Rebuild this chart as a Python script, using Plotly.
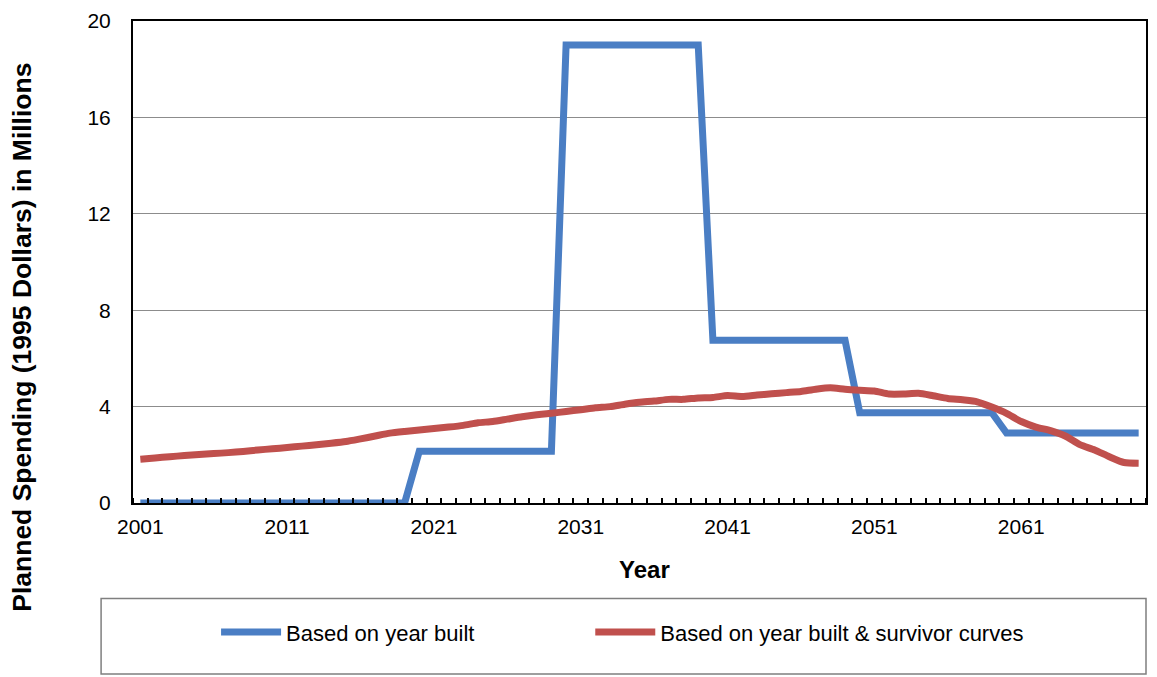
import plotly.graph_objects as go

years = list(range(2001, 2070))

based_on_year_built = (
    [0.0] * 19            # 2001-2019
    + [2.15] * 10         # 2020-2029
    + [19.0] * 10         # 2030-2039
    + [6.75] * 10         # 2040-2049
    + [3.75] * 10         # 2050-2059
    + [2.9] * 10          # 2060-2069
)

based_on_survivor = [
    1.82, 1.87, 1.92, 1.97, 2.01, 2.05, 2.09, 2.14, 2.20, 2.25,
    2.30, 2.36, 2.42, 2.48, 2.55, 2.66, 2.78, 2.90, 2.97, 3.03,
    3.09, 3.15, 3.22, 3.33, 3.38, 3.48, 3.58, 3.66, 3.72, 3.80,
    3.87, 3.95, 4.00, 4.10, 4.18, 4.23, 4.30, 4.30, 4.36, 4.38,
    4.46, 4.42, 4.48, 4.53, 4.58, 4.63, 4.72, 4.78, 4.72, 4.68,
    4.65, 4.52, 4.52, 4.55, 4.45, 4.34, 4.28, 4.20, 3.98, 3.72,
    3.38, 3.15, 3.00, 2.78, 2.42, 2.20, 1.92, 1.68, 1.65,
]

x_tick_labels = [2001, 2011, 2021, 2031, 2041, 2051, 2061]
y_ticks = [0, 4, 8, 12, 16, 20]

series_names = ["Based on year built", "Based on year built & survivor curves"]

BLUE = "#4A7EC4"
RED = "#C0504D"
FONT = "Liberation Sans, Arial, sans-serif"

fig = go.Figure()
fig.add_trace(go.Scatter(x=years, y=based_on_year_built, mode="lines",
                         name=series_names[0], legend="legend",
                         line=dict(color=BLUE, width=7)))
fig.add_trace(go.Scatter(x=years, y=based_on_survivor, mode="lines",
                         name=series_names[1], legend="legend2",
                         line=dict(color=RED, width=7, shape="spline", smoothing=0.6)))

leg_common = dict(orientation="h", y=-0.268, xanchor="left", yanchor="middle",
                  font=dict(size=22, family=FONT), itemwidth=60,
                  bgcolor="rgba(0,0,0,0)", borderwidth=0)

fig.update_layout(
    width=1141, height=669,
    margin=dict(l=125, r=1, t=10, b=174),
    paper_bgcolor="white", plot_bgcolor="white",
    font=dict(family=FONT, color="black", size=20),
    showlegend=True,
    legend=dict(x=0.082, **leg_common),
    legend2=dict(x=0.4514, **leg_common),
)

fig.update_xaxes(
    range=[2000.5, 2069.5],
    tickmode="array", tickvals=x_tick_labels, ticktext=[str(v) for v in x_tick_labels],
    ticks="", showgrid=False, zeroline=False,
    showline=True, linecolor="black", linewidth=2, mirror=True,
    tickfont=dict(size=21), ticklabelstandoff=4,
    minor=dict(ticks="inside", tick0=2000.5, dtick=1, ticklen=5, tickwidth=1.5,
               tickcolor="black", showgrid=False),
)
fig.update_yaxes(
    range=[0, 20], tickmode="array", tickvals=y_ticks,
    ticks="", showgrid=True, gridcolor="#8c8c8c", gridwidth=1, zeroline=False,
    showline=True, linecolor="black", linewidth=2, mirror=True,
    tickfont=dict(size=21), ticklabelstandoff=16, ticklabeloverflow="allow",
)

# legend frame
fig.add_shape(type="rect", xref="paper", yref="paper",
              x0=-0.0315, x1=1.0, y0=-0.355, y1=-0.198,
              line=dict(color="#7f7f7f", width=1.5), fillcolor="rgba(0,0,0,0)")

fig.add_annotation(text="<b>Planned Spending (1995 Dollars) in Millions</b>",
                   xref="paper", yref="paper", x=-0.109, y=0.344,
                   xanchor="center", yanchor="middle", textangle=-90,
                   showarrow=False, font=dict(size=26.5, family=FONT))
fig.add_annotation(text="<b>Year</b>", xref="paper", yref="paper",
                   x=0.505, y=-0.138, xanchor="center", yanchor="middle",
                   showarrow=False, font=dict(size=24, family=FONT))

fig.write_html("out.html")
